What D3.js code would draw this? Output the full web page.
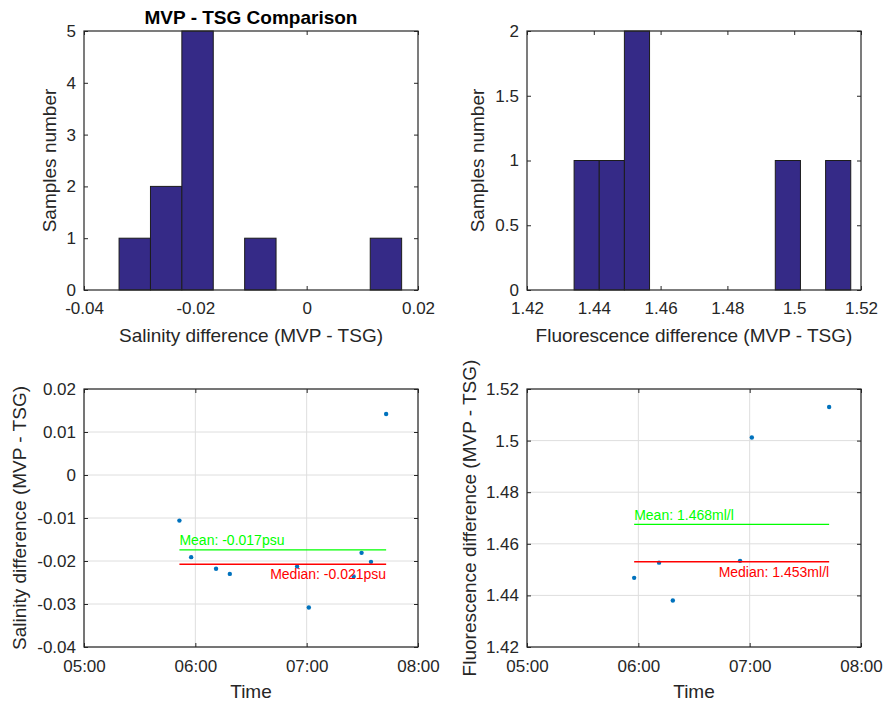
<!DOCTYPE html>
<html>
<head>
<meta charset="utf-8">
<script src="https://cdn.jsdelivr.net/npm/d3@7/dist/d3.min.js"></script>
<style>
  body { margin: 0; background: #fff; }
  svg text { font-family: "Liberation Sans", Arial, Helvetica, sans-serif; }
</style>
</head>
<body>
<svg id="fig" width="885" height="704"></svg>
<script>
// Matched MVP / TSG samples: time of each profile and the difference MVP - TSG
const salinityTimes = ["05:51:25", "05:57:45", "06:11:10", "06:18:35", "06:54:50",
                       "07:01:10", "07:25:20", "07:29:35", "07:34:40", "07:42:50"];
const salinityDiff  = [-0.0106, -0.0191, -0.0218, -0.0230, -0.0213,
                       -0.0308, -0.0236, -0.0181, -0.0202, 0.0142];

const fluoTimes = ["05:57:45", "06:11:10", "06:18:35", "06:54:50", "07:01:10", "07:42:50"];
const fluoDiff  = [1.4468, 1.4527, 1.4380, 1.4534, 1.5012, 1.5130];

// Histogram bin edges
const salinityEdges = [-0.0337, -0.02806, -0.02242, -0.01678, -0.01114,
                       -0.0055, 0.00014, 0.00578, 0.01142, 0.01706];
const fluoEdges = [1.4341, 1.44163, 1.44916, 1.45669, 1.46422, 1.47175,
                   1.47928, 1.48681, 1.49434, 1.50187, 1.5094, 1.51693];

// Axis limits and tick values
const salinityHistTicks = [-0.04, -0.02, 0, 0.02];
const fluoHistTicks     = [1.42, 1.44, 1.46, 1.48, 1.5, 1.52];
const salinityTicks     = [-0.04, -0.03, -0.02, -0.01, 0, 0.01, 0.02];
const fluoTicks         = [1.42, 1.44, 1.46, 1.48, 1.5, 1.52];
const timeTicks         = ["05:00", "06:00", "07:00", "08:00"];

const svg = d3.select("#fig");
const INK = "#262626";
const BAR = "#352a87";
const DOT = "#0072bd";
const TICK_FONT = 17;
const fmtNum = d => String(+(+d).toFixed(4));
const day = "2016-01-01T";
const parseT = s => new Date(day + (s.length === 5 ? s + ":00" : s));

const panels = {
  tl: { x0: 84,  x1: 418, y0: 31,  y1: 290 },
  tr: { x0: 527, x1: 861, y0: 31,  y1: 290 },
  bl: { x0: 84,  x1: 418, y0: 389, y1: 647 },
  br: { x0: 527, x1: 861, y0: 389, y1: 647 }
};

function styleAxis(g) {
  g.attr("font-size", TICK_FONT).attr("font-family", null);
  g.select(".domain").remove();
  g.selectAll(".tick line").attr("stroke", INK).attr("stroke-width", 1);
  g.selectAll(".tick text").attr("fill", INK);
}

// Inward ticks on all four sides, labels on bottom and left
function ticks(layer, p, x, y, o) {
  const tl = 4;
  layer.append("g").attr("transform", `translate(0,${p.y1})`)
    .call(d3.axisBottom(x).tickValues(o.xt).tickSize(-tl).tickPadding(o.xpad).tickFormat(o.xf))
    .call(styleAxis);
  layer.append("g").attr("transform", `translate(0,${p.y0})`)
    .call(d3.axisTop(x).tickValues(o.xt).tickSize(-tl).tickFormat(""))
    .call(styleAxis);
  layer.append("g").attr("transform", `translate(${p.x0},0)`)
    .call(d3.axisLeft(y).tickValues(o.yt).tickSize(-tl).tickPadding(8).tickFormat(fmtNum))
    .call(styleAxis);
  layer.append("g").attr("transform", `translate(${p.x1},0)`)
    .call(d3.axisRight(y).tickValues(o.yt).tickSize(-tl).tickFormat(""))
    .call(styleAxis);
}

function box(p) {
  svg.append("rect")
    .attr("x", p.x0).attr("y", p.y0)
    .attr("width", p.x1 - p.x0).attr("height", p.y1 - p.y0)
    .attr("fill", "none").attr("stroke", INK).attr("stroke-width", 1.2);
}

function labels(p, xText, xBase, yText, yBase) {
  svg.append("text")
    .attr("x", (p.x0 + p.x1) / 2).attr("y", xBase)
    .attr("text-anchor", "middle").attr("font-size", 19).attr("fill", INK)
    .text(xText);
  svg.append("text")
    .attr("transform", `translate(${yBase},${(p.y0 + p.y1) / 2}) rotate(-90)`)
    .attr("text-anchor", "middle").attr("font-size", 19).attr("fill", INK)
    .text(yText);
}

// ---------- histograms ----------
function histogram(p, values, edges, xDomain, xt) {
  const bins = d3.bin()
    .domain([edges[0], edges[edges.length - 1]])
    .thresholds(edges.slice(1, -1))(values);
  const x = d3.scaleLinear().domain(xDomain).range([p.x0, p.x1]);
  const yMax = d3.max(bins, b => b.length);
  const y = d3.scaleLinear().domain([0, yMax]).range([p.y1, p.y0]);
  const yt = yMax > 2 ? d3.range(0, yMax + 1) : d3.range(0, yMax + 0.25, 0.5);

  ticks(svg.append("g"), p, x, y, { xt, xf: fmtNum, xpad: 12, yt });

  svg.append("g").selectAll("rect")
    .data(bins.filter(b => b.length > 0))
    .join("rect")
    .attr("x", b => x(b.x0)).attr("width", b => x(b.x1) - x(b.x0))
    .attr("y", b => y(b.length)).attr("height", b => y(0) - y(b.length))
    .attr("fill", BAR).attr("stroke", "#1c1c1c").attr("stroke-width", 1);

  box(p);
}

histogram(panels.tl, salinityDiff, salinityEdges, [-0.04, 0.02], salinityHistTicks);
labels(panels.tl, "Salinity difference (MVP - TSG)", 342, "Samples number", 56);

histogram(panels.tr, fluoDiff, fluoEdges, [1.42, 1.52], fluoHistTicks);
labels(panels.tr, "Fluorescence difference (MVP - TSG)", 342, "Samples number", 484);

svg.append("text")
  .attr("x", (panels.tl.x0 + panels.tl.x1) / 2).attr("y", 24)
  .attr("text-anchor", "middle").attr("font-size", 19).attr("font-weight", "bold")
  .attr("fill", "#000")
  .text("MVP - TSG Comparison");

// ---------- time series with mean / median ----------
function series(p, times, values, yDomain, yt, unit) {
  const t = times.map(parseT);
  const x = d3.scaleTime()
    .domain([parseT(timeTicks[0]), parseT(timeTicks[timeTicks.length - 1])])
    .range([p.x0, p.x1]);
  const y = d3.scaleLinear().domain(yDomain).range([p.y1, p.y0]);
  const xt = timeTicks.map(parseT);

  // grid
  const grid = svg.append("g").attr("stroke", "#dedede").attr("stroke-width", 1);
  grid.selectAll(".gx").data(xt).join("line")
    .attr("x1", d => x(d)).attr("x2", d => x(d)).attr("y1", p.y0).attr("y2", p.y1);
  grid.selectAll(".gy").data(yt).join("line")
    .attr("x1", p.x0).attr("x2", p.x1).attr("y1", d => y(d)).attr("y2", d => y(d));

  ticks(svg.append("g"), p, x, y, { xt, xf: d3.timeFormat("%H:%M"), xpad: 13, yt });
  box(p);

  svg.append("g").selectAll("circle")
    .data(values)
    .join("circle")
    .attr("cx", (d, i) => x(t[i])).attr("cy", d => y(d)).attr("r", 2.2)
    .attr("fill", DOT);

  const mean = d3.mean(values);
  const median = d3.median(values);
  const xs = x(d3.min(t)), xe = x(d3.max(t));

  svg.append("line")
    .attr("x1", xs).attr("x2", xe).attr("y1", y(mean)).attr("y2", y(mean))
    .attr("stroke", "#00ff00").attr("stroke-width", 1.3);
  svg.append("line")
    .attr("x1", xs).attr("x2", xe).attr("y1", y(median)).attr("y2", y(median))
    .attr("stroke", "#ff0000").attr("stroke-width", 1.3);

  svg.append("text")
    .attr("x", xs).attr("y", y(mean) - 4.5)
    .attr("font-size", 14).attr("fill", "#00ff00")
    .text(`Mean: ${d3.format(".3f")(mean)}${unit}`);
  svg.append("text")
    .attr("x", xe).attr("y", y(median) + 15)
    .attr("text-anchor", "end").attr("font-size", 14).attr("fill", "#ff0000")
    .text(`Median: ${d3.format(".3f")(median)}${unit}`);
}

series(panels.bl, salinityTimes, salinityDiff, [-0.04, 0.02], salinityTicks, "psu");
labels(panels.bl, "Time", 698, "Salinity difference (MVP - TSG)", 26);

series(panels.br, fluoTimes, fluoDiff, [1.42, 1.52], fluoTicks, "ml/l");
labels(panels.br, "Time", 698, "Fluorescence difference (MVP - TSG)", 476);

// hyphen-minus on negative labels, as in the tick text
svg.selectAll("text").each(function () {
  const s = d3.select(this);
  s.text(s.text().replace(/\u2212/g, "-"));
});
</script>
</body>
</html>
